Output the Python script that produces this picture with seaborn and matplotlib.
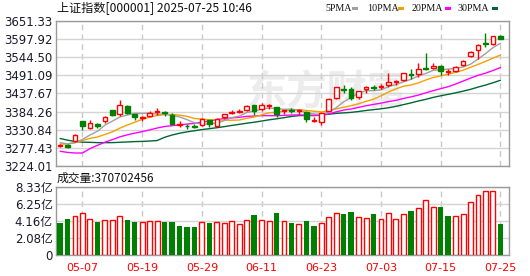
import numpy as np
import pandas as pd
import seaborn as sns
import matplotlib
matplotlib.use("Agg")
import matplotlib.pyplot as plt
from matplotlib.patches import Rectangle

# ---------------- data ----------------
dates = ["04-29", "04-30", "05-06", "05-07", "05-08", "05-09", "05-12", "05-13", "05-14", "05-15",
         "05-16", "05-19", "05-20", "05-21", "05-22", "05-23", "05-26", "05-27", "05-28", "05-29",
         "05-30", "06-03", "06-04", "06-05", "06-06", "06-09", "06-10", "06-11", "06-12", "06-13",
         "06-16", "06-17", "06-18", "06-19", "06-20", "06-23", "06-24", "06-25", "06-26", "06-27",
         "06-30", "07-01", "07-02", "07-03", "07-04", "07-07", "07-08", "07-09", "07-10", "07-11",
         "07-14", "07-15", "07-16", "07-17", "07-18", "07-21", "07-22", "07-23", "07-24", "07-25"]

open_ = [3284.0, 3286.0, 3299.0, 3356.0, 3336.0, 3348.0, 3356.0, 3388.0, 3376.0, 3401.0,
         3376.0, 3365.0, 3371.0, 3382.0, 3383.0, 3375.0, 3345.0, 3343.0, 3342.0, 3345.0,
         3360.0, 3343.0, 3367.0, 3381.0, 3384.0, 3389.0, 3403.0, 3391.0, 3400.0, 3397.0,
         3386.0, 3389.0, 3386.0, 3384.0, 3358.0, 3353.0, 3387.0, 3423.0, 3452.0, 3451.0,
         3426.0, 3450.0, 3458.0, 3458.0, 3462.0, 3471.0, 3478.0, 3495.0, 3494.0, 3512.0,
         3514.0, 3520.0, 3502.0, 3504.0, 3521.0, 3547.0, 3565.0, 3586.0, 3583.0, 3606.0]
high = [3290.0, 3288.0, 3318.0, 3358.0, 3360.0, 3350.0, 3371.0, 3390.0, 3419.0, 3403.0,
        3378.0, 3370.0, 3385.0, 3394.0, 3387.0, 3381.0, 3358.0, 3348.0, 3349.0, 3366.0,
        3361.0, 3365.0, 3377.0, 3388.0, 3391.0, 3403.0, 3405.0, 3410.0, 3408.0, 3398.0,
        3390.0, 3395.0, 3393.0, 3386.0, 3367.0, 3384.0, 3425.0, 3458.0, 3462.0, 3458.0,
        3446.0, 3460.0, 3464.0, 3465.0, 3497.0, 3478.0, 3498.0, 3510.0, 3527.0, 3556.0,
        3527.0, 3522.0, 3510.0, 3519.0, 3536.0, 3562.0, 3583.0, 3615.0, 3608.0, 3609.0]
low = [3281.0, 3277.0, 3294.0, 3329.0, 3332.0, 3337.0, 3352.0, 3370.0, 3372.0, 3378.0,
       3360.0, 3358.0, 3368.0, 3375.0, 3372.0, 3347.0, 3340.0, 3333.0, 3337.0, 3342.0,
       3340.0, 3340.0, 3362.0, 3377.0, 3380.0, 3385.0, 3373.0, 3386.0, 3393.0, 3369.0,
       3376.0, 3380.0, 3378.0, 3355.0, 3354.0, 3345.0, 3386.0, 3420.0, 3440.0, 3418.0,
       3420.0, 3440.0, 3448.0, 3450.0, 3456.0, 3462.0, 3474.0, 3480.0, 3486.0, 3508.0,
       3510.0, 3492.0, 3492.0, 3502.0, 3519.0, 3546.0, 3540.0, 3575.0, 3582.0, 3597.0]
close = [3286.65, 3279.03, 3316.11, 3342.67, 3352.00, 3342.00, 3369.24, 3374.87, 3403.95, 3380.82,
         3367.46, 3367.58, 3380.48, 3387.57, 3380.19, 3348.37, 3346.84, 3340.69, 3339.93, 3363.45,
         3347.49, 3361.98, 3376.20, 3384.10, 3385.36, 3399.77, 3384.82, 3402.32, 3402.66, 3377.00,
         3388.73, 3387.40, 3388.81, 3362.11, 3359.90, 3381.58, 3420.57, 3455.97, 3448.45, 3424.23,
         3444.43, 3457.75, 3454.79, 3461.15, 3472.32, 3473.13, 3497.48, 3493.05, 3509.68, 3510.18,
         3519.65, 3505.00, 3503.78, 3516.83, 3534.48, 3559.79, 3581.86, 3582.30, 3605.73, 3599.00]

ma5 = [3292.75, 3289.29, 3293.05, 3302.57, 3315.29, 3326.36, 3344.40, 3356.16, 3368.41, 3374.18,
       3379.27, 3378.94, 3380.06, 3376.78, 3376.66, 3372.84, 3368.69, 3360.73, 3351.20, 3347.86,
       3347.68, 3350.71, 3357.81, 3366.64, 3371.03, 3381.48, 3386.05, 3391.27, 3394.99, 3393.31,
       3391.11, 3391.62, 3388.92, 3380.81, 3377.39, 3375.96, 3382.59, 3396.03, 3413.29, 3426.16,
       3438.73, 3446.17, 3445.93, 3448.47, 3458.09, 3463.83, 3471.77, 3479.43, 3489.13, 3496.70,
       3506.01, 3507.51, 3509.66, 3511.09, 3515.95, 3523.98, 3539.35, 3555.05, 3572.83, 3585.74]
ma10 = [3288.80, 3289.11, 3292.68, 3299.28, 3305.33, 3309.56, 3316.85, 3324.60, 3335.49, 3344.73,
        3352.82, 3361.67, 3368.11, 3372.60, 3375.42, 3376.05, 3373.81, 3370.40, 3363.99, 3362.26,
        3360.26, 3359.70, 3359.27, 3358.92, 3359.44, 3364.58, 3368.38, 3374.54, 3380.82, 3382.17,
        3386.29, 3388.84, 3390.10, 3387.90, 3385.35, 3383.53, 3387.11, 3392.47, 3397.05, 3401.78,
        3407.35, 3414.38, 3420.98, 3430.88, 3442.12, 3451.28, 3458.97, 3462.68, 3468.80, 3477.40,
        3484.92, 3489.64, 3494.54, 3500.11, 3506.33, 3514.99, 3523.43, 3532.36, 3541.96, 3550.84]
ma20 = [3267.49, 3264.02, 3262.32, 3262.36, 3275.13, 3284.95, 3294.07, 3301.63, 3309.92, 3315.82,
        3320.81, 3325.39, 3330.40, 3335.94, 3340.38, 3342.81, 3345.33, 3347.50, 3349.74, 3353.50,
        3356.54, 3360.68, 3363.69, 3365.76, 3367.43, 3370.32, 3371.10, 3372.47, 3372.40, 3372.21,
        3373.28, 3374.27, 3374.68, 3373.41, 3372.40, 3374.06, 3377.74, 3383.51, 3388.93, 3391.97,
        3396.82, 3401.61, 3405.54, 3409.39, 3413.74, 3417.41, 3423.04, 3427.58, 3432.93, 3439.59,
        3446.13, 3452.01, 3457.76, 3465.50, 3474.23, 3483.14, 3491.20, 3497.52, 3505.38, 3514.12]
ma30 = [3305.15, 3300.12, 3296.45, 3294.24, 3293.81, 3292.87, 3292.85, 3292.89, 3293.89, 3294.88,
        3295.93, 3296.57, 3297.58, 3299.10, 3308.56, 3315.32, 3320.65, 3324.55, 3327.94, 3331.30,
        3333.96, 3336.83, 3340.02, 3343.60, 3346.73, 3350.06, 3353.01, 3356.51, 3360.10, 3363.05,
        3366.46, 3370.07, 3372.49, 3373.14, 3373.40, 3374.72, 3376.43, 3379.14, 3380.62, 3382.07,
        3384.63, 3387.64, 3390.12, 3392.57, 3395.64, 3399.80, 3404.82, 3409.90, 3415.56, 3420.45,
        3426.19, 3430.95, 3435.21, 3439.63, 3444.60, 3449.93, 3456.50, 3462.50, 3469.27, 3476.67]

volume = [3.92, 4.37, 4.74, 5.11, 4.33, 4.00, 4.25, 4.25, 4.74, 4.25,
          4.00, 4.04, 4.12, 4.12, 4.00, 4.00, 3.51, 3.39, 3.39, 4.04,
          3.92, 4.00, 3.88, 4.12, 3.76, 4.25, 4.90, 4.25, 4.13, 5.15,
          4.13, 3.92, 3.76, 4.13, 3.52, 3.88, 4.62, 5.11, 5.03, 5.23,
          4.62, 4.50, 5.03, 4.37, 5.11, 4.37, 4.99, 5.36, 5.72, 6.70,
          5.80, 5.84, 4.74, 4.74, 4.99, 6.46, 7.31, 7.81, 7.81, 3.707]
vol_dir = list("ggrrrgrrrggrrrgggggrgrrrrrgrrgrgrggrrrggrrgrrrrgrrrggrrrrrrg")

price_ticks = [3224.01, 3277.43, 3330.84, 3384.26, 3437.67, 3491.09, 3544.50, 3597.92, 3651.33]
vol_ticks = [0, 2.08, 4.16, 6.25, 8.33]
vol_tick_labels = ["0", "2.08亿", "4.16亿", "6.25亿", "8.33亿"]
date_ticks = ["05-07", "05-19", "05-29", "06-11", "06-23", "07-03", "07-15", "07-25"]

title_text = "上证指数[000001] 2025-07-25 10:46"
volume_text = "成交量:370702456"
legend_labels = ["5PMA", "10PMA", "20PMA", "30PMA"]

# ---------------- style ----------------
sns.set_style("white")
plt.rcParams["font.family"] = ["DejaVu Sans", "Noto Sans CJK SC"]

RED = "#ff0000"
GREEN = "#008000"
MA_COLORS = ["#a0a0a0", "#f5a000", "#ff00ff", "#006633"]
GRID = "#d4d4d4"
FRAME = "#9a9a9a"

W, H = 530, 276
fig = plt.figure(figsize=(W / 100, H / 100), dpi=100)
ax = fig.add_axes([56 / W, 1 - 166 / H, 453 / W, 145 / H])
axv = fig.add_axes([56 / W, 1 - 254.7 / H, 453 / W, 68 / H])

df = pd.DataFrame({"date": dates, "open": open_, "high": high, "low": low, "close": close,
                   "ma5": ma5, "ma10": ma10, "ma20": ma20, "ma30": ma30,
                   "volume": volume, "vdir": vol_dir})
df["i"] = np.arange(len(df))
pos = {d: k for k, d in enumerate(dates)}
tick_pos = [pos[d] for d in date_ticks]

# ---------------- price panel ----------------
xlim = (-0.55, 60.15)
for a in (ax, axv):
    a.set_xlim(*xlim)
    a.set_xticks(tick_pos)
    a.grid(axis="x", color="#c8c8c8", lw=1, ls=(0, (4, 3)))
    a.grid(axis="y", color=GRID, lw=1, ls="-")
    a.set_axisbelow(True)
    for s in a.spines.values():
        s.set_color(FRAME)
        s.set_linewidth(1)
    a.tick_params(length=0)

ax.set_ylim(price_ticks[0], price_ticks[-1])
ax.set_yticks(price_ticks)
ax.set_yticklabels([f"{v:.2f}" for v in price_ticks], fontsize=8.5, color="#1a1a2a")
ax.tick_params(axis="y", pad=2.5)
ax.tick_params(axis="x", labelbottom=False)

# watermark
ax.text(35.8, 3440, "东方财富", fontsize=29, fontweight="bold", color="#ececec",
        ha="center", va="center", family=["Noto Sans CJK SC"], zorder=0.5)

# moving averages
for col, c in zip(["ma30", "ma20", "ma10", "ma5"], MA_COLORS[::-1]):
    sns.lineplot(data=df, x="i", y=col, color=c, lw=1.0, ax=ax, estimator=None, zorder=2)

up = df["close"] >= df["open"]
body_lo = np.minimum(df["open"], df["close"])
body_h = (df["close"] - df["open"]).abs()
ax.vlines(df["i"][up], df["low"][up], df["high"][up], color=RED, lw=1, zorder=3)
ax.vlines(df["i"][~up], df["low"][~up], df["high"][~up], color=GREEN, lw=1, zorder=3)
ax.bar(df["i"][up], body_h[up], bottom=body_lo[up], width=0.62, facecolor="white",
       edgecolor=RED, lw=1, zorder=4)
ax.bar(df["i"][~up], body_h[~up], bottom=body_lo[~up], width=0.62, facecolor=GREEN,
       edgecolor=GREEN, lw=1, zorder=4)
ax.set_xlabel("")
ax.set_ylabel("")

# ---------------- volume panel ----------------
vup = df["vdir"] == "r"
axv.bar(df["i"][vup], df["volume"][vup], width=0.66, facecolor="white", edgecolor=RED, lw=1, zorder=3)
axv.bar(df["i"][~vup], df["volume"][~vup], width=0.72, facecolor=GREEN, edgecolor=GREEN, lw=0, zorder=3)
axv.set_ylim(0, vol_ticks[-1])
axv.set_yticks(vol_ticks)
axv.set_yticklabels(vol_tick_labels, fontsize=8.5, color="#1a1a2a")
axv.set_xticklabels(date_ticks, fontsize=8, color=RED)
axv.tick_params(axis="y", pad=2.5)
axv.tick_params(axis="x", pad=6)

# ---------------- texts ----------------
fig.text(57 / W, 1 - 9 / H, title_text, fontsize=8.7, va="center", ha="left",
         family=["Noto Sans CJK SC", "DejaVu Sans"], color="#111111")
fig.text(57 / W, 1 - 178 / H, volume_text, fontsize=8.5, va="center", ha="left",
         family=["Noto Sans CJK SC", "DejaVu Sans"], color="#111111")

text_x = [325, 367, 412, 458]
sq_x = [352, 398, 445, 492]
for lab, c, tx, sx in zip(legend_labels, MA_COLORS, text_x, sq_x):
    fig.text(tx / W, 1 - 8.5 / H, lab, fontsize=7.2, va="center", ha="left",
             family=["Liberation Serif"], color="#111111")
    fig.add_artist(Rectangle((sx / W, 1 - 10 / H), 6 / W, 3 / H, transform=fig.transFigure,
                             facecolor=c, edgecolor="none"))

fig.savefig("out.png", dpi=100)
